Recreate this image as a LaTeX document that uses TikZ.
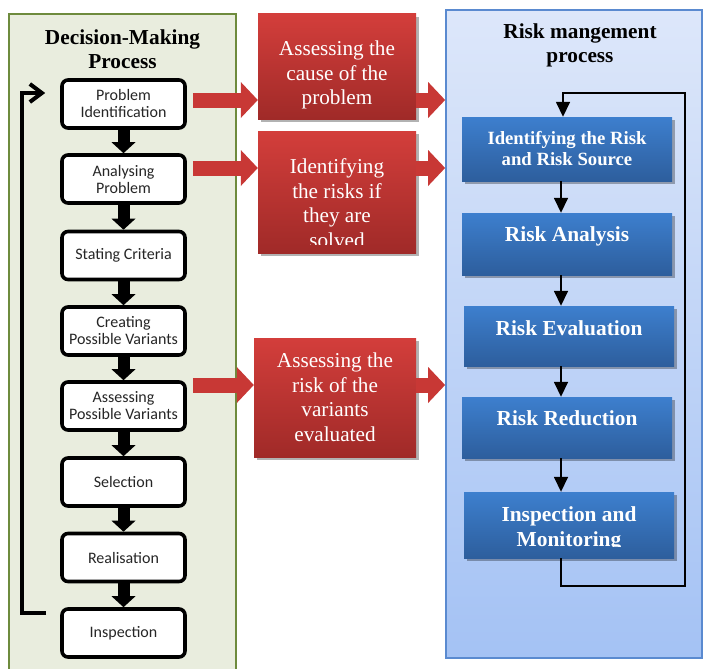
\documentclass[tikz,border=0pt]{standalone}
\usepackage{fontspec}
\setmainfont{Liberation Serif}
\newfontfamily\calib{Carlito}
\usetikzlibrary{arrows.meta,calc,shadows}

\definecolor{greenfill}{HTML}{E9EDDE}
\definecolor{greenline}{HTML}{6E8B3D}
\definecolor{bluetop}{HTML}{DDE7FA}
\definecolor{bluebot}{HTML}{A4C2F4}
\definecolor{blueline}{HTML}{5A8AD0}
\definecolor{redtop}{HTML}{D33E3B}
\definecolor{redbot}{HTML}{A02A28}
\definecolor{redarr}{HTML}{C83835}
\definecolor{bboxtop}{HTML}{3D7FCE}
\definecolor{bboxbot}{HTML}{2D5E9D}

\begin{document}
\begin{tikzpicture}[x=1pt,y=-1pt,
  greenpanel/.style={draw=greenline, line width=1.6pt, fill=greenfill, inner sep=0pt},
  bluepanel/.style={draw=blueline, line width=1.8pt, top color=bluetop, bottom color=bluebot, inner sep=0pt},
  title/.style={align=center, font=\bfseries\fontsize{21.3}{24}\selectfont},
  stepbox/.style={draw=black, line width=3.6pt, rounded corners=6pt, fill=white,
    minimum width=123pt, minimum height=48pt, inner sep=0pt, align=center,
    font=\calib\fontsize{16}{17}\selectfont, text=black!85},
  redbox/.style={top color=redtop, bottom color=redbot, minimum width=158pt, inner sep=0pt,
    drop shadow={shadow xshift=3pt, shadow yshift=-3pt, opacity=0.3, fill=black}},
  redtext/.style={align=center, text=white, font=\fontsize{21.2}{24.5}\selectfont, inner sep=0pt},
  bluebox/.style={top color=bboxtop, bottom color=bboxbot, minimum width=210pt, inner sep=0pt,
    align=center, text=white, font=\bfseries\fontsize{21.4}{25}\selectfont,
    drop shadow={shadow xshift=3pt, shadow yshift=-3pt, opacity=0.3, fill=black}},
  bluetext/.style={align=center, text=white, font=\bfseries\fontsize{21.4}{25}\selectfont, inner sep=0pt},
  blk/.style={line width=12pt, -{Triangle[width=24pt,length=11pt,line width=0pt]}},
  redarrow/.style={draw=redarr, line width=15pt, -{Triangle[width=36pt,length=17pt,line width=0pt]}},
  fb/.style={line width=4pt, -{Straight Barb[length=12pt,width=18pt]}},
  thinarrow/.style={line width=1.6pt, -{Triangle[width=14pt,length=15pt]}}
]
\clip (0,0) rectangle (704,669);
\fill[white] (0,0) rectangle (704,669);

% panels
\node[greenpanel, minimum width=227pt, minimum height=700pt] (lp) at (122.5,364) {};
\node[bluepanel, minimum width=256pt, minimum height=648pt] (rp) at (574,334) {};

\node[title] (lt) at (122.5,49) {Decision-Making\\Process};
\node[title] (rt) at (580,45.5) {Risk mangement\\process};

% decision-making steps
\node[stepbox] (pi) at (123.5,104) {Problem\\Identification};
\node[stepbox] (ap) at (123.5,179) {Analysing\\Problem};
\node[stepbox] (sc) at (123.5,255.5) {Stating Criteria};
\node[stepbox] (cv) at (123.5,331) {Creating\\Possible Variants};
\node[stepbox] (av) at (123.5,406) {Assessing\\Possible Variants};
\node[stepbox] (se) at (123.5,482) {Selection};
\node[stepbox] (re) at (123.5,557.5) {Realisation};
\node[stepbox] (in) at (123.5,633) {Inspection};

\foreach \a/\b in {pi/ap,ap/sc,sc/cv,cv/av,av/se,se/re,re/in}
  \draw[blk] (\a) -- (\b);

% feedback loop
\coordinate (fbs) at ($(in.west)+(-14,-20)$);
\coordinate (fbe) at ($(pi.west)+(-15,-11)$);
\draw[fb] (fbs) -| ($(fbe)+(-23,0)$) -- (fbe);

% red boxes
\node[redbox, minimum height=105pt] (rb1) at (337,66.5) {};
\node[redtext] (rb1t) at (337,75) {Assessing the\\cause of the\\problem};
\node[redbox, minimum height=122pt] (rb2) at (337,192) {};
\begin{scope}
  \clip (rb2.north west) rectangle ($(rb2.south east)+(0,-8.5)$);
  \node[redtext] (rb2t) at (337,203) {Identifying\\the risks if\\they are\\solved};
\end{scope}
\node[redbox, minimum height=119pt, minimum width=162pt] (rb3) at (335,397.5) {};
\node[redtext] (rb3t) at (335,397) {Assessing the\\risk of the\\variants\\evaluated};

% red arrows
\coordinate (ra1) at ($(pi.east)+(6,-4)$);
\coordinate (ra2) at ($(ap.east)+(6,-11)$);
\coordinate (ra3) at ($(av.east)+(6,-21)$);
\draw[redarrow] (ra1) -- (ra1 -| rb1.west);
\draw[redarrow] (ra2) -- (ra2 -| rb2.west);
\draw[redarrow] (ra3) -- (ra3 -| rb3.west);
\draw[redarrow] (rb1.east |- ra1) -- (ra1 -| rp.west);
\draw[redarrow] (rb2.east |- ra2) -- (ra2 -| rp.west);
\draw[redarrow] (rb3.east |- ra3) -- (ra3 -| rp.west);

% risk management steps
\node[bluebox, minimum height=64pt, font=\bfseries\fontsize{18.7}{21}\selectfont] (b1) at (567,149) {Identifying the Risk\\and Risk Source};
\node[bluebox, minimum height=62pt] (b2) at (567,244) {\raisebox{8pt}[\height][\depth]{Risk Analysis}};
\node[bluebox, minimum height=60pt] (b3) at (569,336) {\raisebox{8pt}[\height][\depth]{Risk Evaluation}};
\node[bluebox, minimum height=61pt] (b4) at (567,427.5) {\raisebox{9pt}[\height][\depth]{Risk Reduction}};
\node[bluebox, minimum height=66pt] (b5) at (569,525) {};
\begin{scope}
  \clip (b5.north west) rectangle ($(b5.south east)+(0,-12)$);
  \node[bluetext] (b5t) at (569,528.5) {Inspection and\\Monitoring};
\end{scope}

\coordinate (ax) at (561,0);
\draw[thinarrow] (b1.south -| ax) -- (b2.north -| ax);
\draw[thinarrow] (b2.south -| ax) -- (b3.north -| ax);
\draw[thinarrow] (b3.south -| ax) -- (b4.north -| ax);
\draw[thinarrow] (b4.south -| ax) -- (b5.north -| ax);
\coordinate (lr) at (685,586);
\draw[thinarrow] (b5.south -| ax) |- (lr) |- ($(b1.north)+(-4,-24)$) -- ($(b1.north)+(-4,0)$);
\end{tikzpicture}
\end{document}
